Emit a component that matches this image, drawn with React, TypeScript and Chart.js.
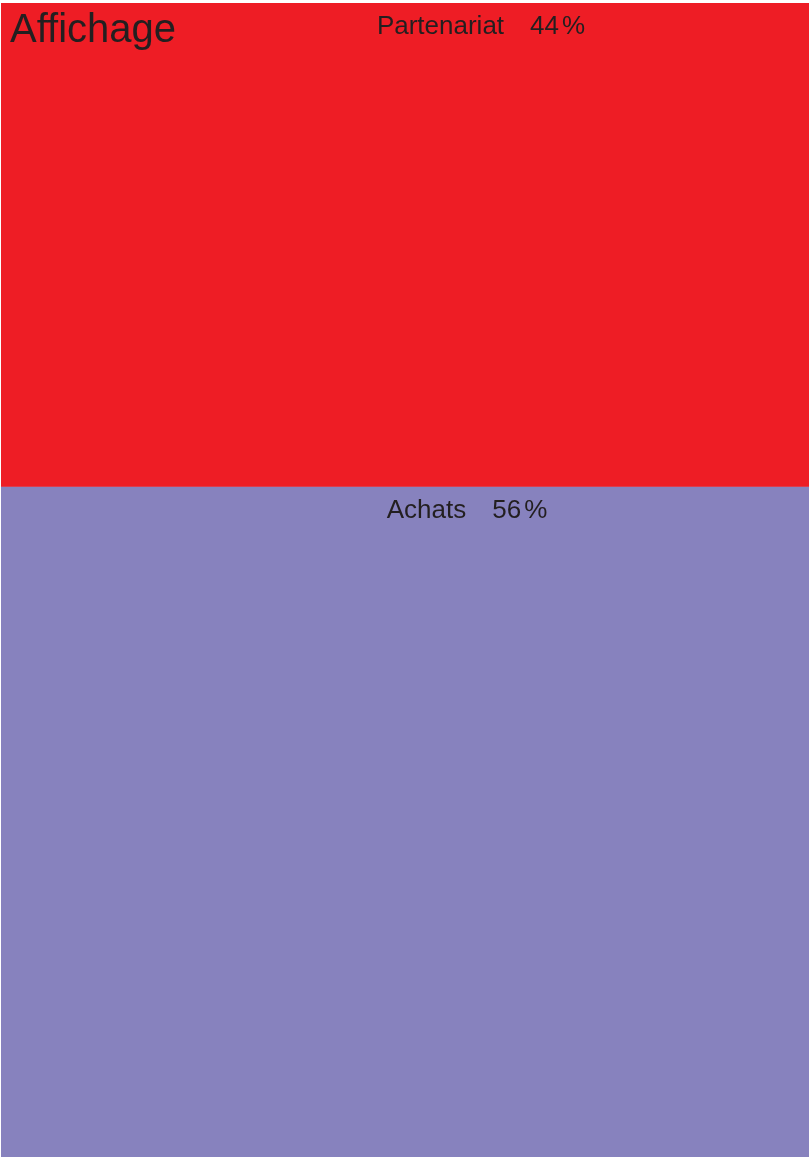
import React, { useEffect, useRef } from "react";
import { Chart, registerables } from "chart.js";

Chart.register(...registerables);

const title = "Affichage";
const categories = ["Partenariat", "Achats"];
const shareLabels = ["44", "56"];
// area of each block (share of the total height)
const areaValues = [41.9, 58.1];
const colors = ["#EE1D25", "#8782BE"];
const labelOffsets = [76, 62];

const TEXT = "#231F20";
const FONT = '"Liberation Sans", Arial, Helvetica, sans-serif';

const labelPlugin = {
  id: "treeLabels",
  afterDatasetsDraw(chart: any) {
    const ctx = chart.ctx;
    const area = chart.chartArea;
    ctx.save();
    ctx.fillStyle = TEXT;
    ctx.textBaseline = "alphabetic";
    chart.data.datasets.forEach((ds: any, i: number) => {
      const meta = chart.getDatasetMeta(i);
      const el = meta.data[0];
      const props = el.getProps(["x", "y", "base"], true);
      const top = Math.min(props.y, props.base);
      const cx = (area.left + area.right) / 2 + labelOffsets[i];
      ctx.font = `26px ${FONT}`;
      const name = categories[i];
      const num = shareLabels[i];
      const nameW = ctx.measureText(name).width;
      const numW = ctx.measureText(num).width;
      const pctW = ctx.measureText("%").width;
      const gap = 26;
      const thin = 3;
      const total = nameW + gap + numW + thin + pctW;
      let x = cx - total / 2;
      const y = top + 31;
      ctx.textAlign = "left";
      ctx.fillText(name, x, y);
      x += nameW + gap;
      ctx.fillText(num, x, y);
      x += numW + thin;
      ctx.fillText("%", x, y);
    });
    ctx.font = `40px ${FONT}`;
    ctx.textAlign = "left";
    ctx.fillText(title, area.left + 9, area.top + 39);
    ctx.restore();
  },
};

export default function App() {
  const ref = useRef<HTMLCanvasElement>(null);
  useEffect(() => {
    document.body.style.margin = "0";
    const canvas = ref.current!;
    const chart = new Chart(canvas, {
      type: "bar",
      data: {
        labels: [title],
        datasets: categories.map((c, i) => ({
          label: c,
          data: [areaValues[i]],
          backgroundColor: colors[i],
          borderWidth: 0,
          barPercentage: 1,
          categoryPercentage: 1,
        })),
      },
      options: {
        responsive: false,
        animation: false,
        devicePixelRatio: 1,
        layout: { padding: { left: 1, top: 3, right: 0, bottom: 0 } },
        plugins: {
          legend: { display: false },
          tooltip: { enabled: false },
          title: { display: false },
        },
        scales: {
          x: { display: false, stacked: true },
          y: { display: false, stacked: true, reverse: true, min: 0, max: 100 },
        },
      },
      plugins: [labelPlugin],
    });
    return () => chart.destroy();
  }, []);
  return (
    <div style={{ position: "fixed", left: 0, top: 0, width: 809, height: 1157, background: "#fff" }}>
      <canvas ref={ref} width={809} height={1157} style={{ display: "block" }} />
    </div>
  );
}
